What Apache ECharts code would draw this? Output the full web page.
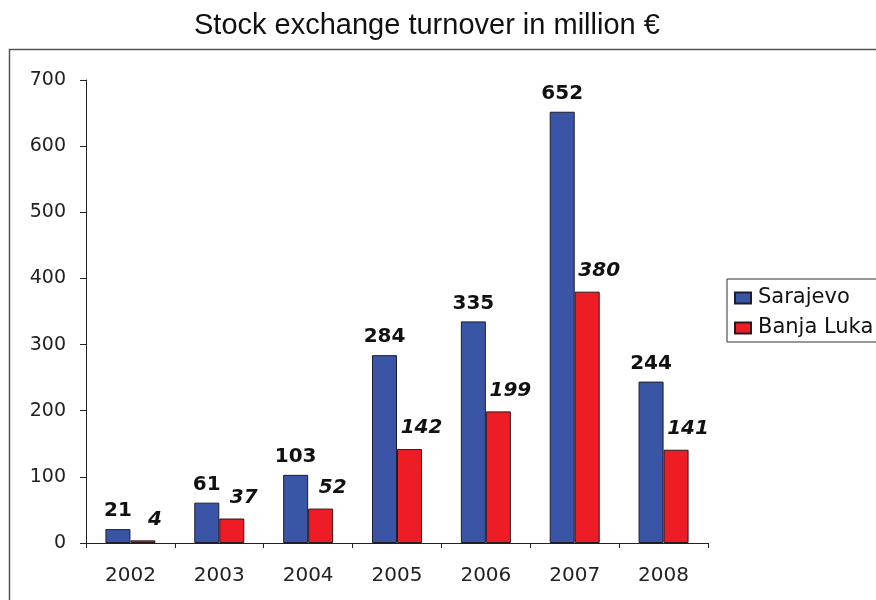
<!DOCTYPE html>
<html>
<head>
<meta charset="utf-8">
<script src="https://cdn.jsdelivr.net/npm/echarts@6/dist/echarts.min.js"></script>
<style>html,body{margin:0;padding:0;background:#fff}#c{width:876px;height:600px}</style>
</head>
<body>
<div id="c"></div>
<script>
const titleText = "Stock exchange turnover in million €";
const years = ["2002","2003","2004","2005","2006","2007","2008"];
const sarajevo = [21, 61, 103, 284, 335, 652, 244];
const banjaLuka = [4, 37, 52, 142, 199, 380, 141];
const seriesNames = ["Sarajevo", "Banja Luka"];

const chart = echarts.init(document.getElementById('c'), null, {renderer:'canvas'});
const font = "DejaVu Sans";
chart.setOption({
  animation: false,
  backgroundColor: '#fff',
  title: {
    text: titleText, left: 189, top: 6,
    textStyle: {fontFamily: 'Liberation Sans', fontSize: 29, fontWeight: 'normal', color: '#111'}
  },
  graphic: [{
    type: 'rect', left: 7, top: 47, z: -1,
    shape: {x: 0, y: 0, width: 900, height: 600},
    style: {fill: 'none', stroke: '#555', lineWidth: 1.5}
  }],
  legend: {
    data: seriesNames, orient: 'vertical', left: 727, top: 279,
    padding: [8, 20, 3, 7], itemGap: 8, itemWidth: 16, itemHeight: 11,
    icon: 'rect', borderColor: '#333', borderWidth: 1, backgroundColor: '#fff',
    textStyle: {fontFamily: font, fontSize: 21, color: '#111', lineHeight: 22, padding: [0,0,0,2]}
  },
  grid: {left: 86, right: 168, top: 80, bottom: 57, containLabel: false},
  xAxis: {
    type: 'category', data: years,
    axisLine: {lineStyle: {color: '#222', width: 1}},
    axisTick: {show: true, length: 5, lineStyle: {color: '#222'}},
    axisLabel: {fontFamily: font, fontSize: 20, color: '#222', margin: 23}
  },
  yAxis: {
    type: 'value', min: 0, max: 700, interval: 100,
    splitLine: {show: false},
    axisLine: {show: true, lineStyle: {color: '#222', width: 1}},
    axisTick: {show: true, length: 6, lineStyle: {color: '#222'}},
    axisLabel: {fontFamily: font, fontSize: 19, color: '#222', margin: 20}
  },
  series: [{
    name: seriesNames[0], type: 'bar', data: sarajevo, barWidth: 25, barGap: '0%',
    itemStyle: {color: '#3a55a5', borderColor: '#1c1c2c', borderWidth: 1},
    label: {show: true, position: 'top', distance: 8, fontFamily: font, fontSize: 20, fontWeight: 'bold', color: '#111'}
  }, {
    name: seriesNames[1], type: 'bar', data: banjaLuka, barWidth: 25,
    itemStyle: {color: '#ee1c25', borderColor: '#2a1a1a', borderWidth: 1},
    label: {show: true, position: 'top', distance: 11, offset: [12, 0], fontFamily: font, fontSize: 20, fontWeight: 'bold', fontStyle: 'italic', color: '#111'}
  }]
});
</script>
</body>
</html>
